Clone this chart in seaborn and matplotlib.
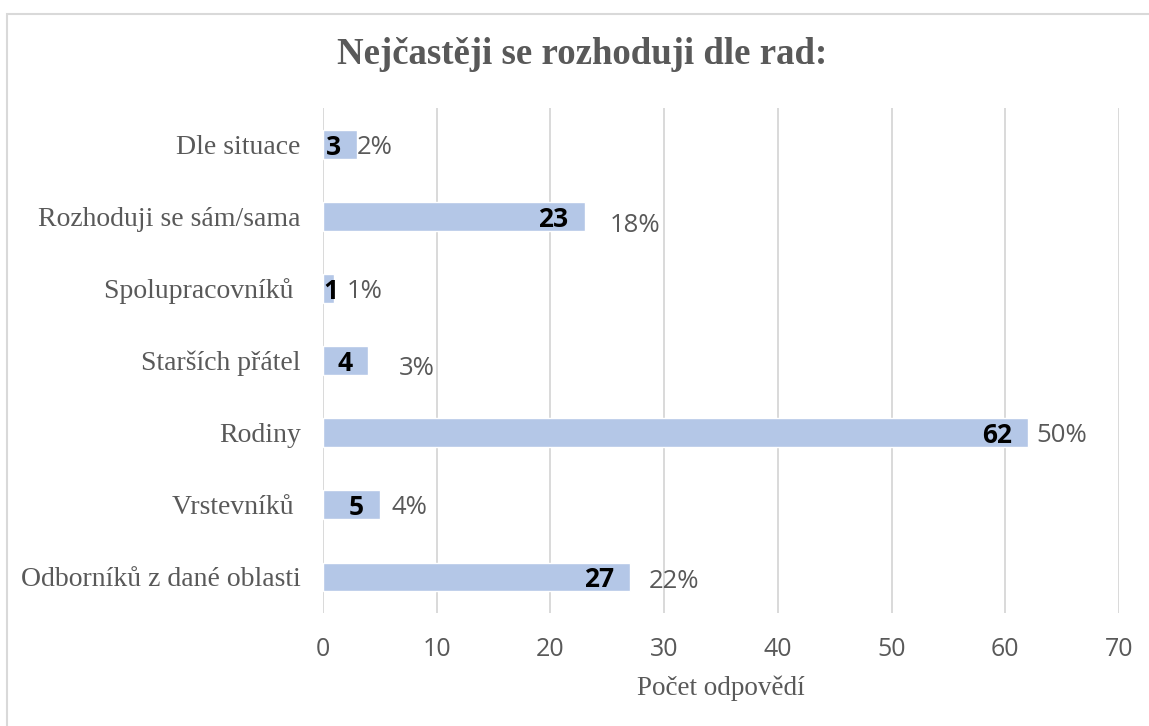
import pandas as pd
import seaborn as sns
import matplotlib.pyplot as plt
from matplotlib.patches import Rectangle

# data
categories = ["Dle situace", "Rozhoduji se sám/sama", "Spolupracovníků ",
              "Starších přátel", "Rodiny", "Vrstevníků ", "Odborníků z dané oblasti"]
counts = [3, 23, 1, 4, 62, 5, 27]
percents = ["2%", "18%", "1%", "3%", "50%", "4%", "22%"]
x_ticks = [0, 10, 20, 30, 40, 50, 60, 70]

# hand placed percent labels (pixel offsets from bar end)
pct_dx = [0, 25, 12, 30, 8, 12, 19]
pct_dy = [0, -6, 0, -5, 0, 0, -2]

df = pd.DataFrame({"kategorie": categories, "pocet": counts})

sns.set_theme(style="white")
serif = "Liberation Serif"
sans = "Open Sans"
grey = "#595959"
PX = 0.72  # points per pixel at dpi 100

fig = plt.figure(figsize=(11.49, 7.26), dpi=100)
ax = fig.add_axes([323 / 1149, 1 - 613 / 726, (1119 - 323) / 1149, (613 - 108) / 726])

sns.barplot(data=df, y="kategorie", x="pocet", color="#B4C7E7", saturation=1,
            width=0.4, ax=ax)

ax.set_xlim(0, 70)
ax.set_xticks(x_ticks)
ax.grid(axis="x", color="#D9D9D9", linewidth=1.4)
ax.set_axisbelow(True)
for s in ax.spines.values():
    s.set_visible(False)
ax.tick_params(axis="both", length=0)
ax.tick_params(axis="x", pad=17, labelsize=18, labelcolor=grey)
ax.tick_params(axis="y", pad=16, labelsize=20, labelcolor=grey)
for lab in ax.get_xticklabels():
    lab.set_fontfamily(sans)
for lab in ax.get_yticklabels():
    lab.set_fontfamily(serif)

ax.set_ylabel("")
ax.set_xlabel("Počet odpovědí", fontfamily=serif, fontsize=19.5, color=grey, labelpad=10)

for i, (v, p) in enumerate(zip(counts, percents)):
    if v > 1:
        ax.annotate(str(v), xy=(v, i), xytext=(-16 * PX, 0), textcoords="offset points",
                    ha="right", va="center_baseline", fontsize=19, fontweight="bold",
                    fontfamily=sans, color="black")
    else:
        ax.annotate(str(v), xy=(0, i), xytext=(0, 0), textcoords="offset points",
                    ha="left", va="center_baseline", fontsize=19, fontweight="bold",
                    fontfamily=sans, color="black")
    ax.annotate(p, xy=(v, i), xytext=(pct_dx[i] * PX, pct_dy[i] * PX),
                textcoords="offset points", ha="left", va="center_baseline",
                fontsize=18.5, fontfamily=sans, color=grey)

fig.text(582 / 1149, 1 - 55 / 726, "Nejčastěji se rozhoduji dle rad:", ha="center",
         va="center", fontfamily=serif, fontsize=26.5, fontweight="bold", color=grey)

# chart frame (runs off the right and bottom edge like the screenshot)
fig.patches.append(Rectangle((7 / 1149, -0.5), 2, 1.5 - 14 / 726, transform=fig.transFigure,
                             fill=False, edgecolor="#D9D9D9", linewidth=1.5))

fig.savefig("out.png", dpi=100)
